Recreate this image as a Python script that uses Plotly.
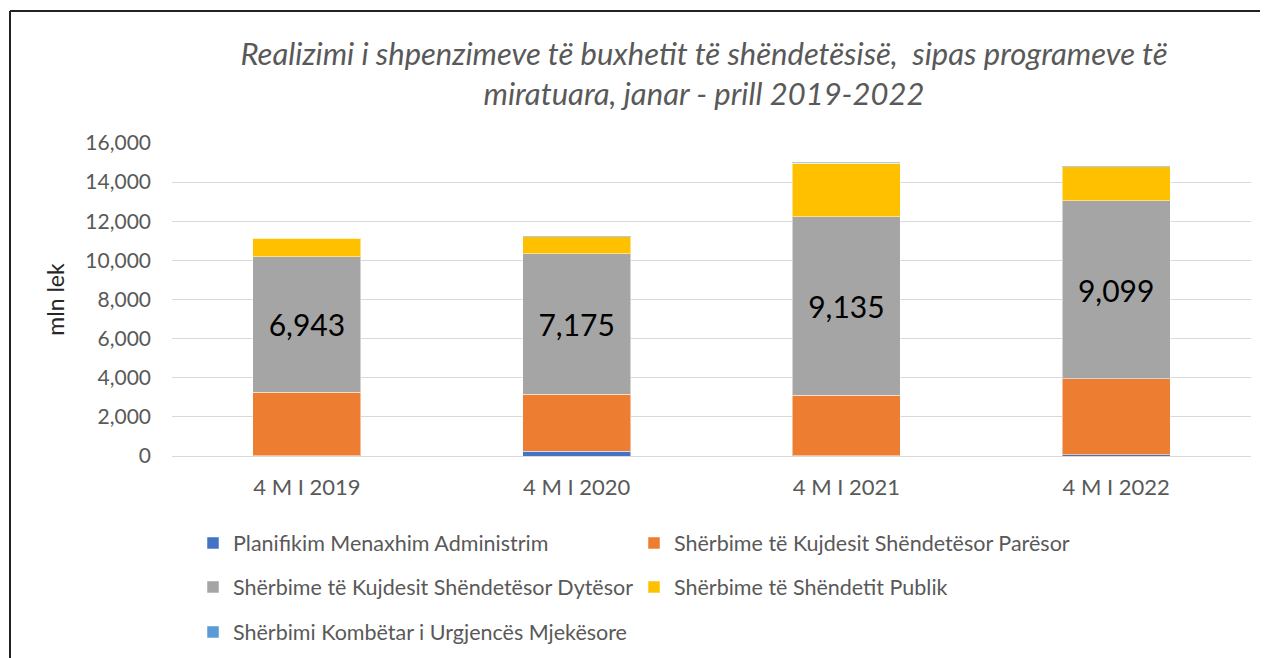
import plotly.graph_objects as go

categories = ["4 M I 2019", "4 M I 2020", "4 M I 2021", "4 M I 2022"]
series_names = [
    "Planifikim Menaxhim Administrim",
    "Shërbime të Kujdesit Shëndetësor Parësor",
    "Shërbime të Kujdesit Shëndetësor Dytësor",
    "Shërbime të Shëndetit Publik",
    "Shërbimi Kombëtar i Urgjencës Mjekësore",
]
planifikim = [25, 235, 15, 60]
paresor = [3230, 2920, 3090, 3890]
dytesor = [6943, 7175, 9135, 9099]
publik = [930, 880, 2725, 1740]
urgjenca = [40, 40, 50, 50]
colors = ["#4472C4", "#ED7D31", "#A5A5A5", "#FFC000", "#5B9BD5"]
tick_vals = [0, 2000, 4000, 6000, 8000, 10000, 12000, 14000, 16000]

values = [planifikim, paresor, dytesor, publik, urgjenca]
legends = ["legend", "legend", "legend2", "legend2", "legend3"]

FONT = "Lato"
GREY = "#595959"

# page body has an 8px margin; work in figure pixels = reference pixels - 8
OFF = 8
W, H = 1260, 650
L, R, T, B = 172 - OFF, W - (1251 - OFF), 143 - OFF, H - (456 - OFF)
pw, ph = W - L - R, H - T - B

def px_x(px):
    return (px - OFF - L) / pw

def px_y(py):
    return (H - B - (py - OFF)) / ph

fig = go.Figure()
for i, (name, vals) in enumerate(zip(series_names, values)):
    kw = {}
    if i == 2:
        kw = dict(
            text=[f"{v:,}" for v in vals],
            textposition="inside",
            insidetextanchor="middle",
            textfont=dict(family=FONT, size=30, color="#000000"),
        )
    fig.add_trace(go.Bar(
        x=categories, y=vals, name=name,
        marker=dict(color=colors[i], line=dict(color="rgba(255,255,255,0.5)", width=1)),
        legend=legends[i],
        hoverinfo="skip",
        **kw,
    ))

leg_common = dict(
    orientation="h",
    xanchor="left",
    yanchor="middle",
    x=px_x(193),
    font=dict(family=FONT, size=21.5, color=GREY),
    entrywidth=396,
    entrywidthmode="pixels",
    bgcolor="rgba(0,0,0,0)",
    traceorder="normal",
)

fig.update_layout(
    width=W, height=H,
    margin=dict(l=L, r=R, t=T, b=B, autoexpand=False),
    paper_bgcolor="white",
    plot_bgcolor="white",
    barmode="stack",
    bargap=0.6,
    title=dict(
        text="Realizimi i shpenzimeve të buxhetit të shëndetësisë,  sipas programeve të<br>miratuara, janar - prill 2019-2022",
        x=px_x(704), xref="paper", xanchor="center",
        y=1 - (65 - OFF) / H, yanchor="middle",
        font=dict(family=FONT, size=31, color=GREY, style="italic"),
    ),
    legend=dict(**leg_common, y=px_y(543)),
    legend2=dict(**leg_common, y=px_y(587)),
    legend3=dict(**leg_common, y=px_y(632)),
    xaxis=dict(
        tickfont=dict(family=FONT, size=22, color=GREY),
        showgrid=False, showline=True, linecolor="#d9d9d9", linewidth=1,
        ticks="", ticklabelstandoff=12,
    ),
    yaxis=dict(
        range=[0, 16000],
        tickvals=tick_vals,
        tickformat=",d",
        tickfont=dict(family=FONT, size=21, color=GREY),
        gridcolor="#d9d9d9", gridwidth=1,
        zeroline=False,
        ticklabelstandoff=20,
        title=dict(text="mln lek", font=dict(family=FONT, size=23, color="#262626"), standoff=14),
    ),
    shapes=[
        dict(type="line", xref="paper", yref="paper",
             x0=px_x(10), x1=px_x(1300),
             y0=px_y(11), y1=px_y(11),
             line=dict(color="#222222", width=2)),
        dict(type="line", xref="paper", yref="paper",
             x0=px_x(10), x1=px_x(10),
             y0=px_y(11), y1=px_y(700),
             line=dict(color="#222222", width=2)),
    ],
)

fig.write_html("out.html")
